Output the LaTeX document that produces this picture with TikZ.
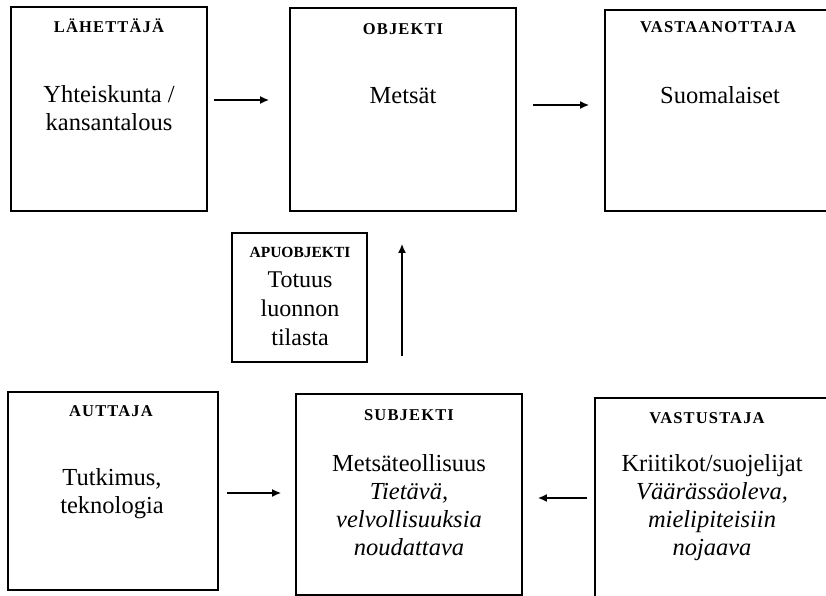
\documentclass[tikz,border=0pt]{standalone}
\usepackage{fontspec}
\setmainfont{Liberation Serif}
\newfontfamily\headfont[LetterSpace=7]{Liberation Serif}
\usetikzlibrary{arrows.meta}

\begin{document}
\begin{tikzpicture}[x=1pt, y=-1pt,
    box/.style={draw, line width=1.6pt, inner sep=0pt},
    head/.style={anchor=base, inner sep=0pt, font=\headfont\bfseries\fontsize{16.5}{19}\selectfont},
    body/.style={anchor=base, inner sep=0pt, align=center, font=\fontsize{24.5}{28}\selectfont},
    conn/.style={line width=2pt, -{Latex[length=9pt, width=8pt]}}]
    \useasboundingbox (0,0) rectangle (826,596);

    % Draw the boxes of the upper row
    \node[box, minimum width=196pt, minimum height=204pt] (lah) at (109,109) {};
    \node[box, minimum width=226pt, minimum height=203pt] (obj) at (403,109.5) {};
    \node[box, minimum width=227pt, minimum height=201pt] (vast) at (718.5,110.5) {};

    \node[head] (lahH) at (109,33) {LÄHETTÄJÄ};
    \node[head] (objH) at (403,35) {OBJEKTI};
    \node[head] (vastH) at (718,33) {VASTAANOTTAJA};

    % (base of a node with several lines = its last line)
    \node[body] (lahT) at (109,131) {Yhteiskunta /\\kansantalous};
    \node[body] (objT) at (403,104) {Metsät};
    \node[body] (vastT) at (720,104) {Suomalaiset};

    % Draw the helper object box
    \node[box, minimum width=135pt, minimum height=129pt] (apu) at (299.5,297.5) {};
    \node[head, font=\bfseries\fontsize{15.5}{18}\selectfont] (apuH) at (300,257) {APUOBJEKTI};
    \node[body, font=\fontsize{24}{29}\selectfont] (apuT) at (300,345) {Totuus\\luonnon\\tilasta};

    % Draw the boxes of the lower row
    \node[box, minimum width=210pt, minimum height=198pt] (aut) at (113,491) {};
    \node[box, minimum width=226pt, minimum height=201pt] (subj) at (409,494.5) {};
    \node[box, minimum width=235pt, minimum height=204pt] (vastus) at (712.5,500) {};

    \node[head] (autH) at (111,416) {AUTTAJA};
    \node[head] (subjH) at (409,420) {SUBJEKTI};
    \node[head] (vastusH) at (707,423) {VASTUSTAJA};

    \node[body] (autT) at (112,513) {Tutkimus,\\teknologia};
    \node[body] (subjT) at (409,555) {Metsäteollisuus\\\textit{Tietävä,}\\\textit{velvollisuuksia}\\\textit{noudattava}};
    \node[body] (vastusT) at (712,555) {Kriitikot/suojelijat\\\textit{Väärässäoleva,}\\\textit{mielipiteisiin}\\\textit{nojaava}};

    % Draw the arrows between the boxes
    \draw[conn, shorten <=6pt, shorten >=20pt] ([yshift=9pt]lah.east) -- ([yshift=9.5pt]obj.west);
    \draw[conn, shorten <=16pt, shorten >=15pt] ([yshift=4.5pt]obj.east) -- ([yshift=5.5pt]vast.west);
    \draw[conn, shorten <=37pt, shorten >=32pt] ([xshift=-7pt]subj.north) -- ([xshift=-1pt]obj.south);
    \draw[conn, shorten <=8pt, shorten >=14pt] ([yshift=-2pt]aut.east) -- ([yshift=1.5pt]subj.west);
    \draw[conn, shorten <=7pt, shorten >=15pt] ([yshift=2pt]vastus.west) -- ([yshift=-3.5pt]subj.east);
\end{tikzpicture}
\end{document}
